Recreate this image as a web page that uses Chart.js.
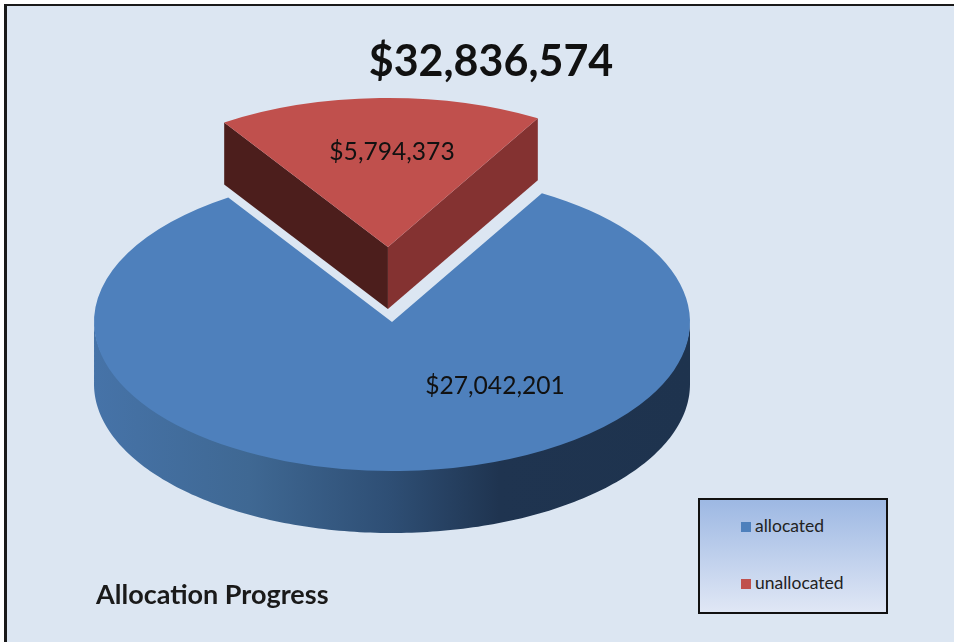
<!DOCTYPE html>
<html>
<head>
<meta charset="utf-8">
<title>Allocation Progress</title>
<script src="https://cdn.jsdelivr.net/npm/chart.js@4"></script>
<style>
  html, body { margin: 0; padding: 0; background: #fff; }
  #page { position: relative; width: 954px; height: 642px; overflow: hidden; font-family: Lato, sans-serif; color: #111; }
  #frame { position: absolute; left: 4px; top: 4px; right: -4px; bottom: -4px; background: #dce6f2; border-left: 3px solid #1a1a1a; border-top: 2px solid #1a1a1a; }
  canvas { position: absolute; left: 0; top: 0; }
  #total { position: absolute; left: 291px; width: 400px; top: 33px; text-align: center; font-size: 43px; font-weight: 700; line-height: 54px; }
  #caption { position: absolute; left: 96px; top: 578px; font-size: 27px; font-weight: 700; line-height: 32px; color: #1a1a1a; }
  #legend { position: absolute; left: 698px; top: 498px; width: 186px; height: 112px; border: 2px solid #111; background: linear-gradient(#9db8e3, #e0e7f5); }
  .item { position: absolute; left: 41px; font-size: 17.5px; line-height: 20px; color: #222; white-space: nowrap; }
  .item i { display: inline-block; width: 10px; height: 10px; margin-right: 4px; }
</style>
</head>
<body>
<div id="page">
  <div id="frame"></div>
  <canvas id="pie" width="954" height="642"></canvas>
  <div id="total"></div>
  <div id="caption">Allocation Progress</div>
  <div id="legend"></div>
</div>
<script>
const categories = ['allocated', 'unallocated'];
const amounts = [27042201, 5794373];
const colors = ['#4e80bc', '#c0504d'];
const explode = [0, 150];              // how far each slice is pulled out
const labelSpots = [[495, 386], [392, 152]];
const legendTops = [16, 73];

const squash = 0.5;                    // flattening of the tilted disc
const faceY = 322;                     // screen y of the disc centre
const depth = 62;                      // thickness of the disc
const money = v => '$' + v.toLocaleString('en-US');

// turns a point on the flat pie into a point on the screen
function project(arc, angle, r, pull, mid) {
  return {
    x: arc.x + Math.cos(angle) * r + Math.cos(mid) * pull,
    y: faceY + (Math.sin(angle) * r + Math.sin(mid) * pull) * squash
  };
}

function drawWalls(ctx, arc, pull) {
  const mid = (arc.startAngle + arc.endAngle) / 2;
  const r = arc.outerRadius;

  // outer rim, only the part that faces the viewer
  const rim = [];
  for (let a = arc.startAngle; a <= arc.endAngle; a += Math.PI / 180) {
    if (Math.sin(a) >= 0) rim.push(project(arc, a, r, pull, mid));
  }
  if (rim.length > 1) {
    const grad = ctx.createLinearGradient(arc.x - r, 0, arc.x + r, 0);
    grad.addColorStop(0, '#4673a8');
    grad.addColorStop(0.26, '#3f6893');
    grad.addColorStop(0.5, '#2e4e74');
    grad.addColorStop(0.68, '#1f3450');
    grad.addColorStop(1, '#1e334e');
    ctx.fillStyle = grad;
    ctx.beginPath();
    // upper edge raised under the face so no seam shows
    rim.forEach((p, i) => i ? ctx.lineTo(p.x, p.y - 2) : ctx.moveTo(p.x, p.y - 2));
    rim.slice().reverse().forEach(p => ctx.lineTo(p.x, p.y + depth));
    ctx.closePath();
    ctx.fill();
  }

  // cut faces, only the pulled out slice shows them
  if (pull > 0) {
    const apex = project(arc, 0, 0, pull, mid);
    [[arc.startAngle, '#4c1e1c'], [arc.endAngle, '#843231']].forEach(([a, shade]) => {
      const c = project(arc, a, r, pull, mid);
      ctx.fillStyle = shade;
      ctx.beginPath();
      ctx.moveTo(apex.x, apex.y);
      ctx.lineTo(apex.x, apex.y + depth);
      ctx.lineTo(c.x, c.y + depth);
      ctx.lineTo(c.x, c.y);
      ctx.closePath();
      ctx.fill();
    });
  }
}

const tiltedPie = {
  id: 'tiltedPie',
  beforeDatasetDraw(chart, args) {
    const ctx = chart.ctx;
    const arcs = args.meta.data;

    arcs.forEach((arc, i) => drawWalls(ctx, arc, explode[i]));

    arcs.forEach((arc, i) => {
      const mid = (arc.startAngle + arc.endAngle) / 2;
      ctx.save();
      ctx.translate(Math.cos(mid) * explode[i], faceY + Math.sin(mid) * explode[i] * squash);
      ctx.scale(1, squash);
      ctx.translate(0, -arc.y);
      arc.draw(ctx, chart.chartArea);
      ctx.restore();
    });

    ctx.save();
    ctx.font = '24.6px Lato, sans-serif';
    ctx.fillStyle = '#111';
    ctx.textAlign = 'center';
    ctx.textBaseline = 'middle';
    amounts.forEach((v, i) => ctx.fillText(money(v), labelSpots[i][0], labelSpots[i][1]));
    ctx.restore();
    return false;
  }
};

new Chart(document.getElementById('pie'), {
  type: 'pie',
  data: {
    labels: categories,
    datasets: [{
      data: amounts,
      backgroundColor: colors,
      borderWidth: 0
    }]
  },
  options: {
    responsive: false,
    animation: false,
    devicePixelRatio: 1,
    rotation: 30.2,
    radius: 298,
    layout: { padding: { left: 0, right: 170 } },
    plugins: { legend: { display: false }, tooltip: { enabled: false } }
  },
  plugins: [tiltedPie]
});

document.getElementById('total').textContent = money(amounts.reduce((a, b) => a + b, 0));

const legendBox = document.getElementById('legend');
categories.forEach((name, i) => {
  const row = document.createElement('div');
  row.className = 'item';
  row.style.top = legendTops[i] + 'px';
  row.innerHTML = '<i style="background:' + colors[i] + '"></i>' + name;
  legendBox.appendChild(row);
});
</script>
</body>
</html>
